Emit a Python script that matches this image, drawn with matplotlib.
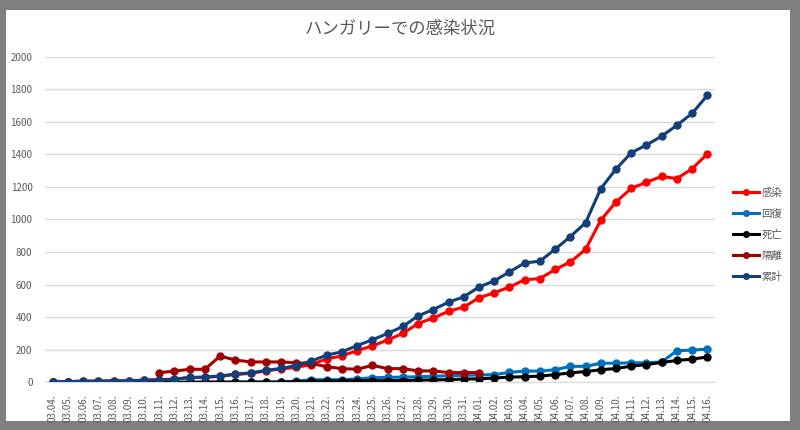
import numpy as np
import matplotlib
matplotlib.use("Agg")
import matplotlib.pyplot as plt
from matplotlib.patches import Rectangle

plt.rcParams['font.family'] = ['Noto Sans CJK JP', 'DejaVu Sans']

dates = ['03.04.', '03.05.', '03.06.', '03.07.', '03.08.', '03.09.', '03.10.',
         '03.11.', '03.12.', '03.13.', '03.14.', '03.15.', '03.16.', '03.17.',
         '03.18.', '03.19.', '03.20.', '03.21.', '03.22.', '03.23.', '03.24.',
         '03.25.', '03.26.', '03.27.', '03.28.', '03.29.', '03.30.', '03.31.',
         '04.01.', '04.02.', '04.03.', '04.04.', '04.05.', '04.06.', '04.07.',
         '04.08.', '04.09.', '04.10.', '04.11.', '04.12.', '04.13.', '04.14.',
         '04.15.', '04.16.']

infected = [2, 4, 7, 7, 9, 9, 13, 16, 19, 29, 30, 37, 48, 55, 70, 82, 92, 109,
            144, 162, 195, 223, 260, 300, 361, 395, 436, 462, 519, 550, 585,
            630, 637, 693, 739, 816, 996, 1108, 1191, 1229, 1265, 1251, 1312, 1403]
recovered = [0, 0, 0, 0, 0, 0, 0, 0, 0, 1, 1, 1, 1, 2, 2, 2, 7, 16, 16, 16, 21,
             28, 30, 32, 34, 37, 40, 43, 45, 47, 61, 69, 69, 77, 98, 98, 117,
             117, 120, 120, 125, 194, 198, 204]
deaths = [0, 0, 0, 0, 0, 0, 0, 0, 0, 0, 1, 1, 1, 1, 1, 1, 4, 6, 7, 9, 10,
          10, 10, 11, 13, 15, 16, 20, 21, 26, 32, 34, 38, 47, 58, 66, 77, 85,
          99, 109, 122, 134, 142, 156]
quarantine = [None] * 7 + [59, 69, 80, 80, 161, 137, 125, 125, 125, 120, 115,
                           96, 84, 80, 104, 84, 84, 70, 70, 60, 60, 60] + [None] * 15
total = [2, 4, 7, 7, 9, 9, 13, 16, 19, 30, 32, 39, 50, 58, 73, 85, 103, 131,
         167, 187, 226, 261, 300, 343, 408, 447, 492, 525, 585, 623, 678, 733,
         744, 817, 895, 980, 1190, 1310, 1410, 1458, 1512, 1579, 1652, 1763]

series = [('感染', infected, '#ff0000'),
          ('回復', recovered, '#0070c0'),
          ('死亡', deaths, '#000000'),
          ('隔離', quarantine, '#a00000'),
          ('累計', total, '#123f7a')]

txt = '#595959'
fig = plt.figure(figsize=(8, 4.3), dpi=100, facecolor='#7f7f7f')
# white chart area inside the grey frame
fig.add_artist(Rectangle((6 / 800, 1 - 421 / 430), 784 / 800, 411 / 430,
                         transform=fig.transFigure, facecolor='white',
                         edgecolor='none', zorder=-10))

ax = fig.add_axes([45 / 800, 1 - 382.3 / 430, 670 / 800, 325.6 / 430])
ax.set_facecolor('white')
x = np.arange(len(dates))
for name, vals, col in series:
    ax.plot(x, np.array(vals, dtype=float), color=col, lw=2.2, marker='o',
            ms=5, label=name)

ax.set_xlim(-0.5, len(dates) - 0.5)
ax.set_ylim(0, 2000)
ax.set_yticks(np.arange(0, 2001, 200))
ax.set_xticks(x)
ax.set_xticklabels(dates, rotation=90, fontsize=7, color=txt)
ax.tick_params(axis='y', labelsize=7, colors=txt, length=0, pad=9)
ax.tick_params(axis='x', length=0, pad=9)
ax.grid(axis='y', color='#d9d9d9', lw=1)
ax.set_axisbelow(True)
for s in ['top', 'right', 'left']:
    ax.spines[s].set_visible(False)
ax.spines['bottom'].set_color('#d9d9d9')

fig.text(0.5, 1 - 29 / 430, 'ハンガリーでの感染状況', ha='center', va='center',
         fontsize=12.5, color=txt)

fig.legend(loc='center left', bbox_to_anchor=(724 / 800, 1 - 235 / 430),
           frameon=False, fontsize=7.5, labelcolor=txt, handlelength=2.5,
           handletextpad=0.2, labelspacing=1.05, markerscale=0.8)

fig.savefig('out.png', dpi=100, facecolor=fig.get_facecolor())
